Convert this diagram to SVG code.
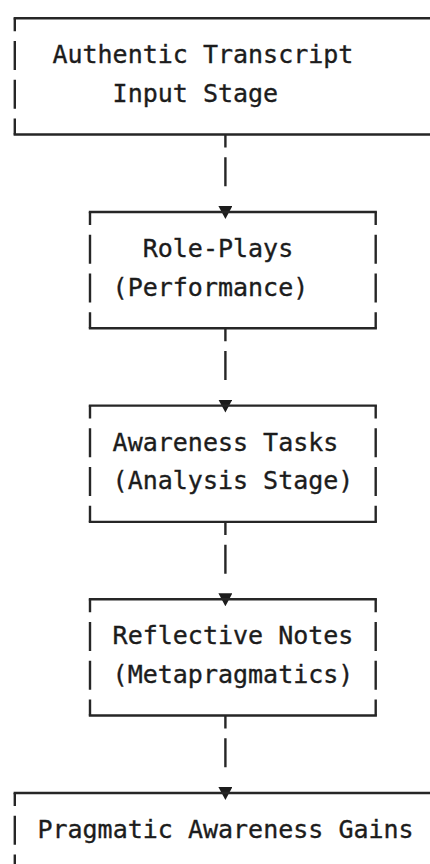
<svg xmlns="http://www.w3.org/2000/svg" width="430" height="864" viewBox="0 0 430 864">
<defs>
<style>
.edge{fill:none;stroke:#262626;stroke-width:2.4;stroke-linecap:square}
.side{fill:none;stroke:#262626;stroke-width:2.4;stroke-dasharray:29 9.735;stroke-dashoffset:16}
.conn{fill:none;stroke:#262626;stroke-width:2.4;stroke-dasharray:13 9.735 29 200;marker-end:url(#tri)}
.t{font-family:"DejaVu Sans Mono","Liberation Mono",monospace;font-size:25px;fill:#1c1c1c;stroke:#1c1c1c;stroke-width:0.35}
</style>
<marker id="tri" viewBox="0 0 13 14" refX="6" refY="7" markerWidth="13" markerHeight="14" markerUnits="userSpaceOnUse" orient="auto">
<path d="M0,0 L13,7 L0,14 Z" fill="#1c1c1c"/>
</marker>
</defs>
<rect width="430" height="864" fill="#fff"/>
<g id="connectors">
<path class="conn" d="M225.4,134.5 V212"/>
<path class="conn" d="M225.4,328.2 V405.6"/>
<path class="conn" d="M225.4,521.9 V599.3"/>
<path class="conn" d="M225.4,715.5 V793"/>
</g>
<g id="node-input">
<path class="edge" d="M14.8,18.3 H436 M14.8,134.5 H436"/>
<path class="side" d="M14.8,18.3 V134.5 M436,18.3 V134.5"/>
<text class="t" x="52.4" y="63.3">Authentic Transcript</text>
<text class="t" x="112.6" y="102.1">Input Stage</text>
</g>
<g id="node-roleplays">
<path class="edge" d="M90,212 H375.7 M90,328.2 H375.7"/>
<path class="side" d="M90,212 V328.2 M375.7,212 V328.2"/>
<text class="t" x="142.7" y="257">Role-Plays</text>
<text class="t" x="112.6" y="295.7">(Performance)</text>
</g>
<g id="node-awareness">
<path class="edge" d="M90,405.6 H375.7 M90,521.9 H375.7"/>
<path class="side" d="M90,405.6 V521.9 M375.7,405.6 V521.9"/>
<text class="t" x="112.6" y="450.7">Awareness Tasks</text>
<text class="t" x="112.6" y="489.4">(Analysis Stage)</text>
</g>
<g id="node-reflective">
<path class="edge" d="M90,599.3 H375.7 M90,715.5 H375.7"/>
<path class="side" d="M90,599.3 V715.5 M375.7,599.3 V715.5"/>
<text class="t" x="112.6" y="644.4">Reflective Notes</text>
<text class="t" x="112.6" y="683.1">(Metapragmatics)</text>
</g>
<g id="node-gains">
<path class="edge" d="M14.8,793 H436"/>
<path class="side" d="M14.8,793 V909 M436,793 V909"/>
<text class="t" x="37.4" y="838">Pragmatic Awareness Gains</text>
</g>
</svg>
